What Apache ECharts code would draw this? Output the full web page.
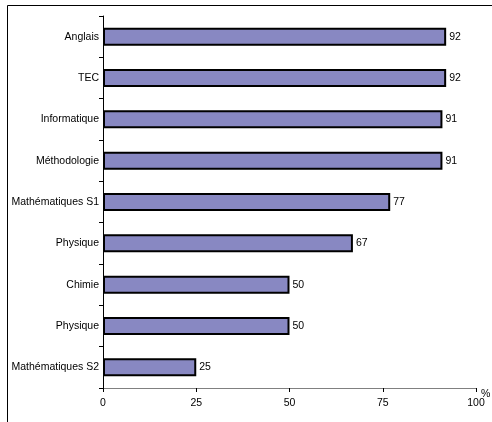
<!DOCTYPE html>
<html>
<head>
<meta charset="utf-8">
<script src="https://cdn.jsdelivr.net/npm/echarts@6/dist/echarts.min.js"></script>
<style>html,body{margin:0;padding:0;background:#fff}#c{width:492px;height:422px}</style>
</head>
<body>
<div id="c"></div>
<script>
const categories = ['Anglais','TEC','Informatique','Méthodologie','Mathématiques S1','Physique','Chimie','Physique','Mathématiques S2'];
const values = [92, 92, 91, 91, 77, 67, 50, 50, 25];
const xTicks = [0, 25, 50, 75, 100];

const chart = echarts.init(document.getElementById('c'), null, {renderer:'canvas'});
const font = 'Liberation Sans, Arial, sans-serif';
chart.setOption({
  animation: false,
  backgroundColor: '#fff',
  graphic: [{
    type: 'rect', shape: {x: 7.5, y: 5.5, width: 600, height: 600},
    style: {fill: 'none', stroke: '#000', lineWidth: 1}, silent: true, z: -1
  }],
  grid: {left: 103, right: 16, top: 16, bottom: 34, containLabel: false, outerBoundsMode: 'none'},
  xAxis: {
    type: 'value', min: xTicks[0], max: xTicks[xTicks.length-1], interval: 25,
    name: '%', nameLocation: 'end', nameGap: 5, nameMoveOverlap: false,
    nameTextStyle: {fontFamily: font, fontSize: 10.5, color: '#000', verticalAlign: 'top', align: 'left', padding: [1,0,0,0]},
    axisLine: {show: true, lineStyle: {color: '#808080', width: 1}},
    axisTick: {show: true, length: 4, lineStyle: {color: '#000'}},
    axisLabel: {fontFamily: font, fontSize: 10.5, color: '#000', margin: 10},
    splitLine: {show: false}
  },
  yAxis: {
    type: 'category', data: categories, inverse: true,
    axisLine: {show: true, lineStyle: {color: '#000', width: 1}},
    axisTick: {show: true, length: 4, lineStyle: {color: '#000'}},
    axisLabel: {fontFamily: font, fontSize: 10.5, color: '#000', margin: 4}
  },
  series: [{
    type: 'bar', data: values, barWidth: 18,
    itemStyle: {color: '#8888C2', borderColor: '#000', borderWidth: 2},
    label: {show: true, position: 'right', distance: 3, fontFamily: font, fontSize: 10.5, color: '#000'}
  }]
});
</script>
</body>
</html>
